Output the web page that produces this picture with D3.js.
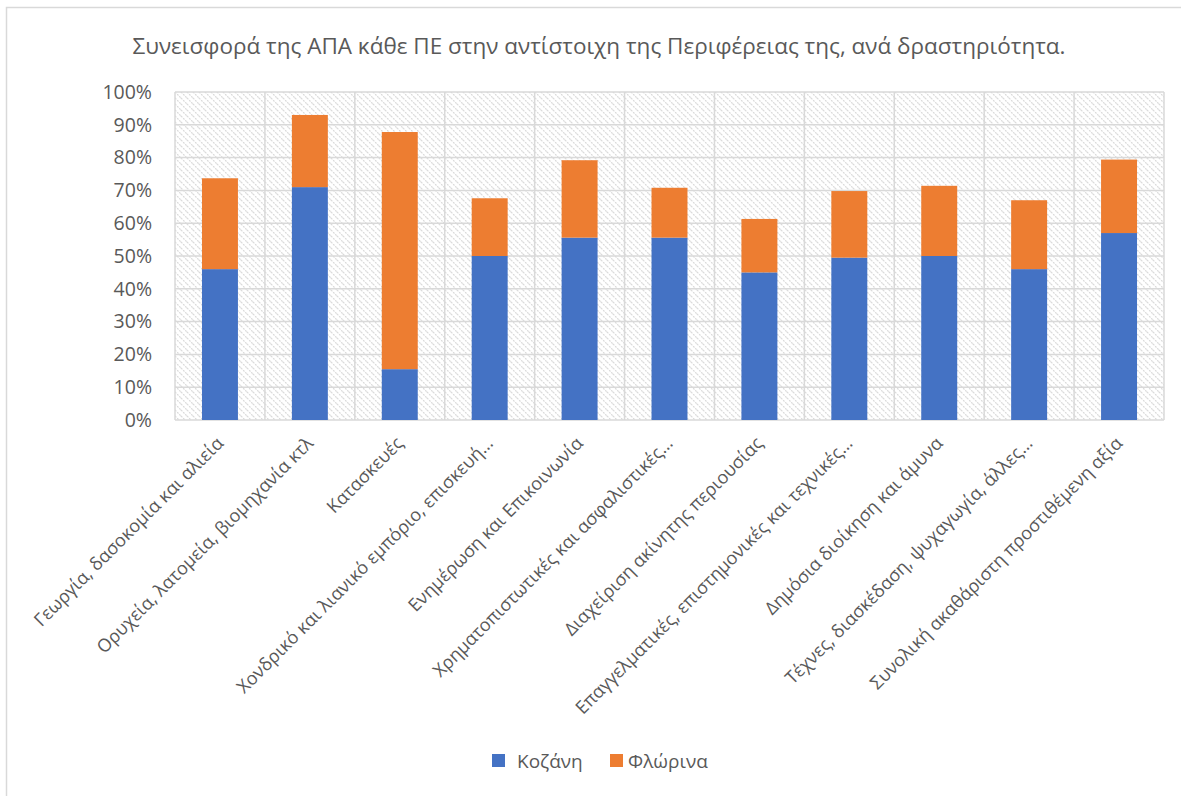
<!DOCTYPE html>
<html>
<head>
<meta charset="utf-8">
<script src="https://cdn.jsdelivr.net/npm/d3@7"></script>
<style>
    body { margin: 0; background: #fff; }
    text { font-family: "Open Sans", "Noto Sans", sans-serif; fill: #595959; }
</style>
</head>
<body>
<div id="wrapper"></div>
<script>
// categories (x axis)
var CATEGORIES = [
    "Γεωργία, δασοκομία και αλιεία",
    "Ορυχεία, λατομεία, βιομηχανία κτλ",
    "Κατασκευές",
    "Χονδρικό και λιανικό εμπόριο, επισκευή…",
    "Ενημέρωση και Επικοινωνία",
    "Χρηματοπιστωτικές και ασφαλιστικές…",
    "Διαχείριση ακίνητης περιουσίας",
    "Επαγγελματικές, επιστημονικές και τεχνικές…",
    "Δημόσια διοίκηση και άμυνα",
    "Τέχνες, διασκέδαση, ψυχαγωγία, άλλες…",
    "Συνολική ακαθάριστη προστιθέμενη αξία"
];
// series values (%)
var KOZANI  = [46, 71, 15.5, 50, 55.6, 55.6, 45, 49.5, 50, 46, 57];
var FLORINA = [27.7, 22, 72.3, 17.6, 23.6, 15.2, 16.3, 20.3, 21.4, 21, 22.4];
var SERIES = ["Κοζάνη", "Φλώρινα"];
var COLORS = ["#4472C4", "#ED7D31"];
var Y_TICKS = [0, 10, 20, 30, 40, 50, 60, 70, 80, 90, 100];
var TITLE = "Συνεισφορά της ΑΠΑ κάθε ΠΕ στην αντίστοιχη της Περιφέρειας της, ανά δραστηριότητα.";

var dimension = {
    width: 1181,
    height: 796,
    margin: { top: 92, right: 17, bottom: 376, left: 175 }
};
dimension.boundedWidth = dimension.width - dimension.margin.left - dimension.margin.right;
dimension.boundedHeight = dimension.height - dimension.margin.top - dimension.margin.bottom;

const wrapper = d3.select("#wrapper")
    .append("svg")
    .attr("width", dimension.width)
    .attr("height", dimension.height);

// outer chart border (only top/left are visible in the picture)
wrapper.append("rect")
    .attr("x", 6.5).attr("y", 7.5)
    .attr("width", 1200).attr("height", 820)
    .attr("fill", "none")
    .attr("stroke", "#d9d9d9")
    .attr("stroke-width", 1.5);

// hatch pattern for plot area
const defs = wrapper.append("defs");
const pat = defs.append("pattern")
    .attr("id", "hatch")
    .attr("patternUnits", "userSpaceOnUse")
    .attr("width", 6).attr("height", 6);
pat.append("path")
    .attr("d", "M-1,5 l2,2 M0,0 l6,6 M5,-1 l2,2")
    .attr("stroke", "#dadada")
    .attr("stroke-width", 1.2)
    .attr("stroke-dasharray", "2,1");

wrapper.append("text")
    .attr("x", 599)
    .attr("y", 54)
    .attr("text-anchor", "middle")
    .style("font-size", "22.5px")
    .text(TITLE);

const bounds = wrapper.append("g")
    .attr("transform", `translate(${dimension.margin.left},${dimension.margin.top})`);

const x = d3.scaleBand()
    .domain(CATEGORIES)
    .range([0, dimension.boundedWidth])
    .paddingInner(0.6)
    .paddingOuter(0.3);

const y = d3.scaleLinear()
    .domain([0, 100])
    .range([dimension.boundedHeight, 0]);

bounds.append("rect")
    .attr("width", dimension.boundedWidth)
    .attr("height", dimension.boundedHeight)
    .attr("fill", "url(#hatch)");

// horizontal grid
bounds.append("g")
    .selectAll("line")
    .data(Y_TICKS)
    .enter()
    .append("line")
    .attr("x1", 0).attr("x2", dimension.boundedWidth)
    .attr("y1", d => y(d)).attr("y2", d => y(d))
    .attr("stroke", "#d9d9d9").attr("stroke-width", 1.5);

// vertical grid at category boundaries
bounds.append("g")
    .selectAll("line")
    .data(d3.range(CATEGORIES.length + 1))
    .enter()
    .append("line")
    .attr("x1", i => i * dimension.boundedWidth / CATEGORIES.length)
    .attr("x2", i => i * dimension.boundedWidth / CATEGORIES.length)
    .attr("y1", 0).attr("y2", dimension.boundedHeight)
    .attr("stroke", "#d9d9d9").attr("stroke-width", 1.5);

// stacked bars
var table = CATEGORIES.map((c, i) => ({ cat: c, "Κοζάνη": KOZANI[i], "Φλώρινα": FLORINA[i] }));
var stacked = d3.stack().keys(SERIES)(table);

bounds.selectAll("g.series")
    .data(stacked)
    .enter()
    .append("g")
    .attr("class", "series")
    .attr("fill", (d, i) => COLORS[i])
    .selectAll("rect")
    .data(d => d)
    .enter()
    .append("rect")
    .attr("x", d => x(d.data.cat))
    .attr("width", x.bandwidth())
    .attr("y", d => y(d[1]))
    .attr("height", d => y(d[0]) - y(d[1]));

// y axis labels
wrapper.append("g")
    .selectAll("text")
    .data(Y_TICKS)
    .enter()
    .append("text")
    .attr("x", 152)
    .attr("y", d => dimension.margin.top + y(d))
    .attr("dy", "0.35em")
    .attr("text-anchor", "end")
    .style("font-size", "19.5px")
    .text(d => d + "%");

// x axis labels, rotated
wrapper.append("g")
    .selectAll("text")
    .data(CATEGORIES)
    .enter()
    .append("text")
    .attr("transform", d => `translate(${dimension.margin.left + x(d) + x.bandwidth() / 2},${dimension.margin.top + dimension.boundedHeight + 20}) rotate(-45)`)
    .attr("dy", "0.35em")
    .attr("text-anchor", "end")
    .style("font-size", "18px")
    .text(d => d);

// legend
const legend = wrapper.append("g")
    .attr("transform", "translate(492,761)");
var legendX = [0, 118];
SERIES.forEach((s, i) => {
    legend.append("rect")
        .attr("x", legendX[i]).attr("y", -7)
        .attr("width", 13).attr("height", 13)
        .attr("fill", COLORS[i]);
    legend.append("text")
        .attr("x", legendX[i] + (i == 0 ? 25 : 18))
        .attr("y", 0)
        .attr("dy", "0.35em")
        .style("font-size", "19px")
        .text(s);
});
</script>
</body>
</html>
